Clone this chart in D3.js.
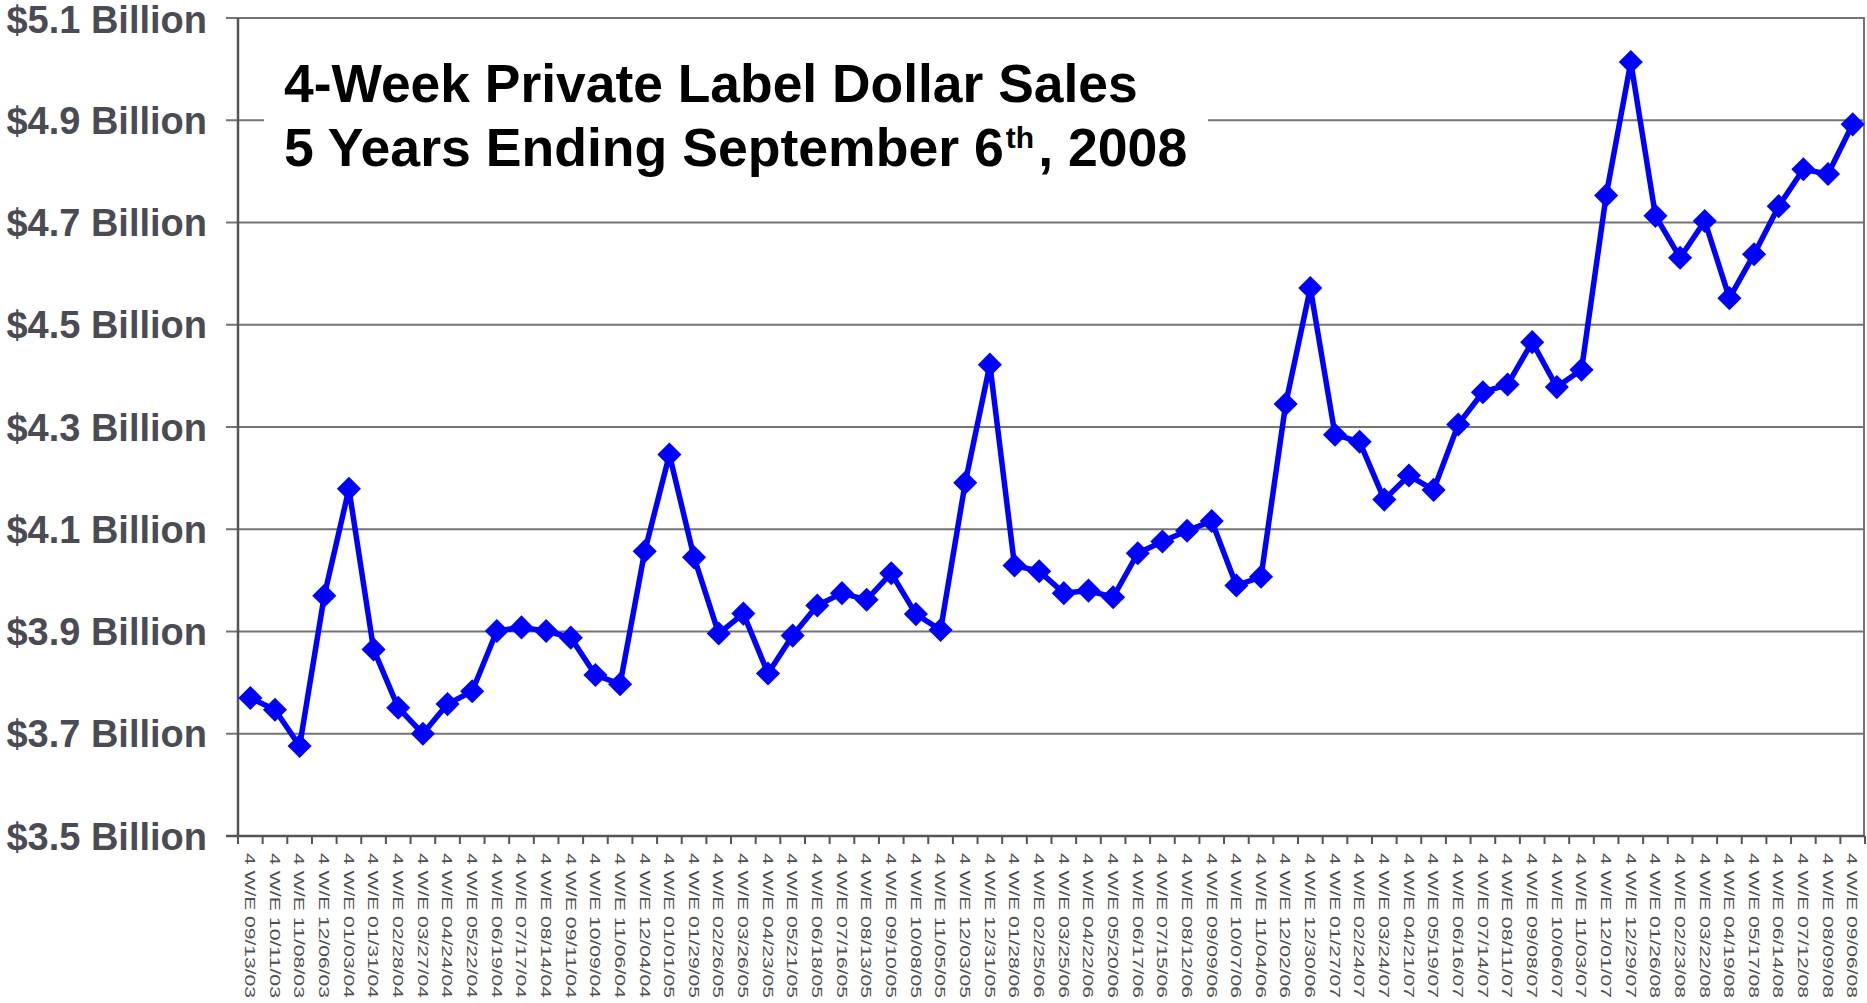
<!DOCTYPE html>
<html>
<head>
<meta charset="utf-8">
<script src="https://cdn.jsdelivr.net/npm/d3@7"></script>
<style>
	html, body { margin: 0; padding: 0; background: #fff; }
	svg { display: block; font-family: 'Liberation Sans', Arial, sans-serif; }
</style>
</head>
<body>
<svg id="chart"></svg>
<script>
const periods = [
	'09/13/03', '10/11/03', '11/08/03', '12/06/03',
	'01/03/04', '01/31/04', '02/28/04', '03/27/04', '04/24/04', '05/22/04', '06/19/04', '07/17/04', '08/14/04', '09/11/04', '10/09/04', '11/06/04', '12/04/04',
	'01/01/05', '01/29/05', '02/26/05', '03/26/05', '04/23/05', '05/21/05', '06/18/05', '07/16/05', '08/13/05', '09/10/05', '10/08/05', '11/05/05', '12/03/05', '12/31/05',
	'01/28/06', '02/25/06', '03/25/06', '04/22/06', '05/20/06', '06/17/06', '07/15/06', '08/12/06', '09/09/06', '10/07/06', '11/04/06', '12/02/06', '12/30/06',
	'01/27/07', '02/24/07', '03/24/07', '04/21/07', '05/19/07', '06/16/07', '07/14/07', '08/11/07', '09/08/07', '10/06/07', '11/03/07', '12/01/07', '12/29/07',
	'01/26/08', '02/23/08', '03/22/08', '04/19/08', '05/17/08', '06/14/08', '07/12/08', '08/09/08', '09/06/08'
];

// dollar sales, billions
const sales = [
	3.770, 3.747, 3.676, 3.970,
	4.179, 3.865, 3.751, 3.700, 3.758, 3.783, 3.901, 3.908, 3.901, 3.888, 3.815, 3.797, 4.057,
	4.246, 4.045, 3.896, 3.935, 3.818, 3.892, 3.951, 3.975, 3.962, 4.014, 3.934, 3.903, 4.191, 4.422,
	4.029, 4.018, 3.975, 3.980, 3.967, 4.053, 4.076, 4.097, 4.116, 3.990, 4.007, 4.345, 4.572,
	4.285, 4.271, 4.158, 4.205, 4.177, 4.305, 4.368, 4.383, 4.466, 4.378, 4.412, 4.753, 5.014,
	4.713, 4.631, 4.703, 4.552, 4.638, 4.732, 4.804, 4.795, 4.892
];

const yTicks = [3.5, 3.7, 3.9, 4.1, 4.3, 4.5, 4.7, 4.9, 5.1];

const titleLines = ['4-Week Private Label Dollar Sales', '5 Years Ending September 6', 'th', ', 2008'];

const config = {
	width: 1867,
	height: 1003,
	margin: { top: 18, right: 2, bottom: 167, left: 238 },
	grid: '#747474',
	axis: '#555555',
	yLabel: '#4b4b53',
	xLabel: '#505050',
	line: '#0000ff'
};

function drawGrid(svg, x, y) {
	const { margin, width } = config;
	svg.append('g')
		.selectAll('line')
		.data(yTicks)
		.enter()
		.append('line')
		.attr('x1', margin.left - 12)
		.attr('x2', width - margin.right)
		.attr('y1', d => y(d))
		.attr('y2', d => y(d))
		.style('stroke', config.grid)
		.style('stroke-width', 2);

	// right border
	svg.append('line')
		.attr('x1', width - margin.right - 1).attr('x2', width - margin.right - 1)
		.attr('y1', y(5.1)).attr('y2', y(3.5))
		.style('stroke', config.grid)
		.style('stroke-width', 2);
}

function drawAxes(svg, x, y) {
	const { margin } = config;
	const bottom = y(3.5);

	svg.append('g')
		.selectAll('text')
		.data(yTicks)
		.enter()
		.append('text')
		.attr('x', 207)
		.attr('y', d => y(d) + (d === 5.1 ? 1 : 0))
		.attr('dy', '0.36em')
		.attr('text-anchor', 'end')
		.style('font-size', '38px')
		.style('font-weight', 'bold')
		.attr('fill', config.yLabel)
		.text(d => `$${d.toFixed(1)} Billion`);

	svg.append('line')
		.attr('x1', margin.left).attr('x2', margin.left)
		.attr('y1', y(5.1)).attr('y2', bottom)
		.style('stroke', config.axis)
		.style('stroke-width', 2.5);

	svg.append('line')
		.attr('x1', margin.left - 12).attr('x2', config.width - margin.right)
		.attr('y1', bottom).attr('y2', bottom)
		.style('stroke', config.axis)
		.style('stroke-width', 2.5);

	// ticks sit between the categories
	const bounds = periods.map(d => x(d)).concat([x(periods[periods.length - 1]) + x.step()]);
	svg.append('g')
		.selectAll('line')
		.data(bounds)
		.enter()
		.append('line')
		.attr('x1', d => d).attr('x2', d => d)
		.attr('y1', bottom).attr('y2', bottom + 8)
		.style('stroke', config.axis)
		.style('stroke-width', 2);

	svg.append('g')
		.selectAll('text')
		.data(periods)
		.enter()
		.append('text')
		.attr('transform', d => `translate(${x(d) + x.bandwidth() / 2},${bottom + 17}) rotate(90)`)
		.attr('dy', '0.36em')
		.attr('textLength', 145)
		.attr('lengthAdjust', 'spacingAndGlyphs')
		.style('font-size', '14.5px')
		.attr('fill', config.xLabel)
		.text(d => `4 W/E ${d}`);
}

function drawTitle(svg) {
	svg.append('rect')
		.attr('x', 264).attr('y', 32)
		.attr('width', 944).attr('height', 168)
		.attr('fill', '#fff');

	svg.append('text')
		.attr('x', 284).attr('y', 102)
		.style('font-size', '53.4px')
		.style('font-weight', 'bold')
		.attr('fill', '#000')
		.text(titleLines[0]);

	const t = svg.append('text')
		.attr('x', 284).attr('y', 166)
		.style('font-size', '53.6px')
		.style('font-weight', 'bold')
		.attr('fill', '#000');
	t.append('tspan').text(titleLines[1]);
	t.append('tspan').attr('dy', -18).attr('dx', 2).style('font-size', '30px').text(titleLines[2]);
	t.append('tspan').attr('dy', 18).attr('dx', 4).text(titleLines[3]);
}

function drawSeries(svg, x, y) {
	const cx = d => x(d.period) + x.bandwidth() / 2;
	const data = periods.map((p, i) => ({ period: p, value: sales[i] }));

	svg.append('path')
		.datum(data)
		.attr('d', d3.line().x(cx).y(d => y(d.value)))
		.attr('fill', 'none')
		.style('stroke', config.line)
		.style('stroke-width', 5.5)
		.style('stroke-linejoin', 'round');

	svg.append('g')
		.selectAll('path')
		.data(data)
		.enter()
		.append('path')
		.attr('d', d3.symbol(d3.symbolSquare, 290))
		.attr('transform', d => `translate(${cx(d)},${y(d.value)}) rotate(45)`)
		.attr('fill', config.line);
}

window.addEventListener('load', function() {
	const { width, height, margin } = config;
	const svg = d3.select('#chart').attr('width', width).attr('height', height);

	const x = d3.scaleBand().domain(periods).range([margin.left, width - margin.right]);
	const y = d3.scaleLinear().domain([3.5, 5.1]).range([height - margin.bottom, margin.top]);

	drawGrid(svg, x, y);
	drawTitle(svg);
	drawAxes(svg, x, y);
	drawSeries(svg, x, y);
});
</script>
</body>
</html>
